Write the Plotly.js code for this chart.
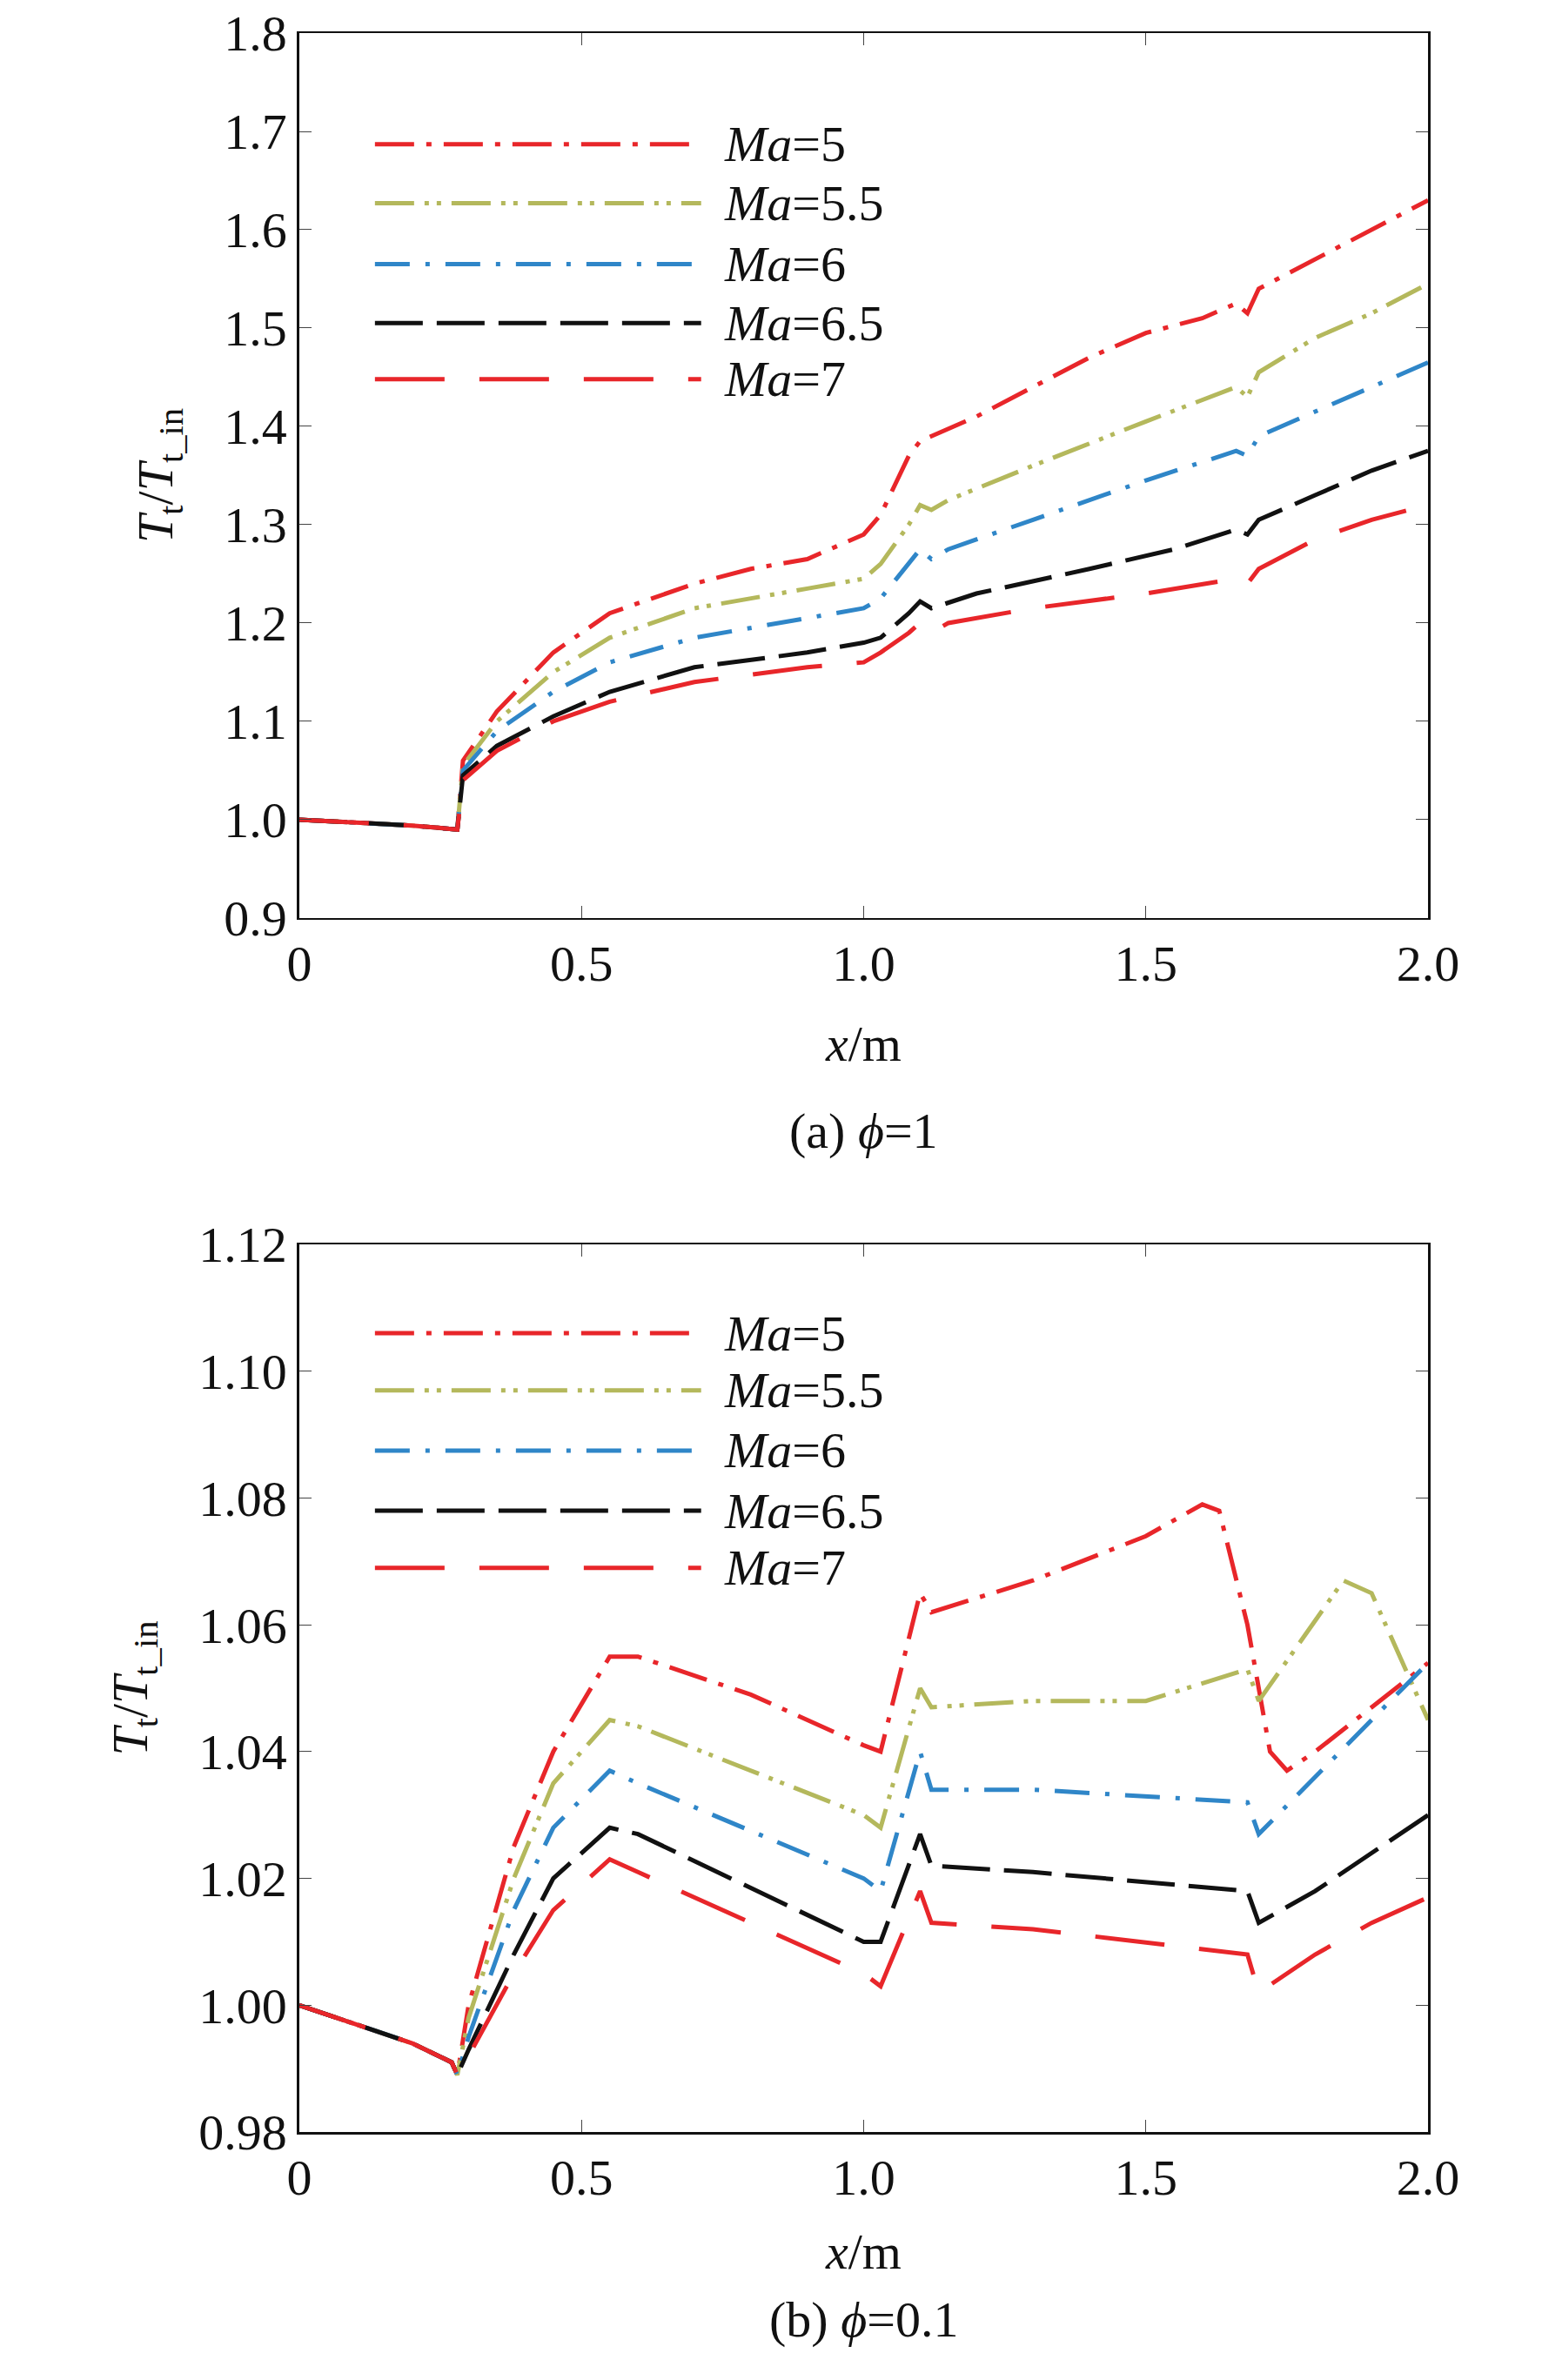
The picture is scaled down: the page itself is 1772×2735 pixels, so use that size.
<!DOCTYPE html>
<html>
<head>
<meta charset="utf-8">
<script src="https://cdn.plot.ly/plotly-3.0.1.min.js"></script>
<style>body{margin:0;background:#fff}</style>
</head>
<body>
<div id="chart" style="width:1772px;height:2735px"></div>
<script>
// Panel (a): phi = 1
const a5x = [0,0.1,0.2,0.28,0.29,0.35,0.45,0.55,0.7,0.8,0.9,1.0,1.03,1.08,1.1,1.2,1.3,1.4,1.5,1.6,1.66,1.68,1.7,1.8,1.9,2.0];
const a5y = [1.0,0.997,0.994,0.99,1.06,1.11,1.17,1.21,1.24,1.255,1.265,1.29,1.31,1.37,1.385,1.41,1.44,1.47,1.495,1.51,1.525,1.515,1.54,1.57,1.6,1.63];
const a55x = [0,0.1,0.2,0.28,0.29,0.35,0.45,0.55,0.7,0.9,1.0,1.03,1.08,1.1,1.12,1.15,1.3,1.5,1.66,1.68,1.7,1.8,1.9,2.0];
const a55y = [1.0,0.997,0.994,0.99,1.055,1.1,1.15,1.185,1.215,1.235,1.245,1.26,1.3,1.32,1.315,1.325,1.36,1.405,1.44,1.43,1.455,1.49,1.515,1.545];
const a6x = a55x;
const a6y = [1.0,0.997,0.994,0.99,1.05,1.09,1.13,1.16,1.185,1.205,1.215,1.225,1.26,1.275,1.265,1.275,1.305,1.345,1.375,1.37,1.39,1.415,1.44,1.465];
const a65x = [0,0.1,0.2,0.28,0.29,0.35,0.45,0.55,0.7,0.9,1.0,1.03,1.08,1.1,1.12,1.2,1.4,1.55,1.66,1.68,1.7,1.8,1.9,2.0];
const a65y = [1.0,0.997,0.994,0.99,1.045,1.075,1.105,1.13,1.155,1.17,1.18,1.185,1.21,1.222,1.215,1.23,1.255,1.275,1.295,1.29,1.305,1.33,1.355,1.375];
const a7x = a55x;
const a7y = [1.0,0.997,0.994,0.99,1.04,1.07,1.1,1.12,1.14,1.155,1.16,1.17,1.19,1.2,1.19,1.2,1.215,1.23,1.245,1.24,1.255,1.285,1.305,1.32];

// Panel (b): phi = 0.1
const b5x = [0,0.1,0.2,0.27,0.28,0.3,0.38,0.45,0.55,0.6,0.8,1.0,1.03,1.1,1.12,1.3,1.5,1.6,1.63,1.68,1.72,1.75,1.8,1.9,2.0];
const b5y = [1.0,0.997,0.994,0.991,0.989,1.0,1.025,1.04,1.055,1.055,1.049,1.041,1.04,1.065,1.062,1.067,1.074,1.079,1.078,1.06,1.04,1.037,1.04,1.047,1.054];
const b55x = [0,0.1,0.2,0.27,0.28,0.3,0.38,0.45,0.55,0.6,1.0,1.03,1.1,1.12,1.3,1.5,1.68,1.7,1.78,1.85,1.9,1.95,2.0];
const b55y = [1.0,0.997,0.994,0.991,0.989,0.998,1.02,1.035,1.045,1.044,1.03,1.028,1.05,1.047,1.048,1.048,1.053,1.048,1.058,1.067,1.065,1.055,1.045];
const b6x = [0,0.1,0.2,0.27,0.28,0.3,0.38,0.45,0.55,0.6,1.0,1.03,1.1,1.12,1.3,1.68,1.7,1.8,1.9,2.0];
const b6y = [1.0,0.997,0.994,0.991,0.989,0.995,1.015,1.028,1.037,1.035,1.02,1.018,1.04,1.034,1.034,1.032,1.027,1.036,1.045,1.054];
const b65x = b6x;
const b65y = [1.0,0.997,0.994,0.991,0.989,0.993,1.008,1.02,1.028,1.027,1.01,1.01,1.027,1.022,1.021,1.018,1.013,1.018,1.024,1.03];
const b7x = b6x;
const b7y = [1.0,0.997,0.994,0.991,0.989,0.992,1.005,1.015,1.023,1.021,1.005,1.003,1.018,1.013,1.012,1.008,1.002,1.008,1.013,1.017];

const names = ["Ma=5", "Ma=5.5", "Ma=6", "Ma=6.5", "Ma=7"];
const labels = names.map(n => "<i>Ma</i>=" + n.slice(3));
const colors = ["#e8262a", "#b4b85c", "#2f86c8", "#111111", "#e8262a"];
const dashes = ["45px,14px,6px,14px", "45px,12px,5px,9px,5px,12px", "40px,18px,5px,18px", "55px,16px", "80px,40px"];
const legendYa = [1.687, 1.627, 1.565, 1.505, 1.448];
const legendYb = [1.106, 1.097, 1.0875, 1.078, 1.069];

const seriesA = [[a5x,a5y],[a55x,a55y],[a6x,a6y],[a65x,a65y],[a7x,a7y]];
const seriesB = [[b5x,b5y],[b55x,b55y],[b6x,b6y],[b65x,b65y],[b7x,b7y]];

const traces = [];
seriesA.forEach((s, i) => traces.push({
  x: s[0], y: s[1], mode: "lines", xaxis: "x", yaxis: "y", showlegend: false,
  line: { color: colors[i], width: 5, dash: dashes[i] }
}));
seriesB.forEach((s, i) => traces.push({
  x: s[0], y: s[1], mode: "lines", xaxis: "x2", yaxis: "y2", showlegend: false,
  line: { color: colors[i], width: 5, dash: dashes[i] }
}));

const font = { family: "Liberation Serif, serif", size: 58, color: "#111" };
const axisBase = {
  range: [0, 2], ticks: "inside", ticklen: 14, mirror: "ticks",
  showline: true, linecolor: "#111", linewidth: 2.5, showgrid: false, zeroline: false,
  tickfont: font, tickvals: [0,0.5,1,1.5,2], ticktext: ["0","0.5","1.0","1.5","2.0"]
};
const ytitle = { text: "<i>T</i><sub>t</sub>/<i>T</i><sub>t_in</sub>", font: font, standoff: 40 };

const shapes = [], annotations = [];
[["x","y",legendYa],["x2","y2",legendYb]].forEach(([xr, yr, ly]) => {
  ly.forEach((yv, i) => {
    shapes.push({ type: "line", xref: xr, yref: yr, x0: 0.134, x1: 0.712, y0: yv, y1: yv,
      line: { color: colors[i], width: 5, dash: dashes[i] } });
    annotations.push({ xref: xr, yref: yr, x: 0.75, y: yv, text: labels[i], showarrow: false,
      xanchor: "left", font: font });
  });
});
annotations.push({ xref: "paper", yref: "paper", x: 0.56, y: 1 - 1200/2735, text: "<i>x</i>/m", showarrow: false, font: font });
annotations.push({ xref: "paper", yref: "paper", x: 0.56, y: 1 - 1299/2735, text: "(a) <i>ϕ</i>=1", showarrow: false, font: font });
annotations.push({ xref: "paper", yref: "paper", x: 0.56, y: 1 - 2622/2735, text: "<i>x</i>/m", showarrow: false, font: font });
annotations.push({ xref: "paper", yref: "paper", x: 0.56, y: 1 - 2700/2735, text: "(b) <i>ϕ</i>=0.1", showarrow: false, font: font });

const layout = {
  width: 1772, height: 2735,
  margin: { l: 0, r: 0, t: 0, b: 0 },
  paper_bgcolor: "#fff", plot_bgcolor: "#fff",
  font: font,
  xaxis: Object.assign({}, axisBase, { domain: [0.1941, 0.9261], anchor: "y" }),
  yaxis: { domain: [0.6143, 0.9861], anchor: "x", range: [0.9, 1.8], dtick: 0.1, tickformat: ".1f",
    ticks: "inside", ticklen: 14, mirror: "ticks", showline: true, linecolor: "#111", linewidth: 2.5,
    showgrid: false, zeroline: false, tickfont: font, title: ytitle },
  xaxis2: Object.assign({}, axisBase, { domain: [0.1941, 0.9261], anchor: "y2" }),
  yaxis2: { domain: [0.1042, 0.4771], anchor: "x2", range: [0.98, 1.12], dtick: 0.02, tickformat: ".2f",
    ticks: "inside", ticklen: 14, mirror: "ticks", showline: true, linecolor: "#111", linewidth: 2.5,
    showgrid: false, zeroline: false, tickfont: font, title: ytitle },
  shapes: shapes,
  annotations: annotations
};

Plotly.newPlot("chart", traces, layout, { displayModeBar: false, staticPlot: true });
</script>
</body>
</html>
